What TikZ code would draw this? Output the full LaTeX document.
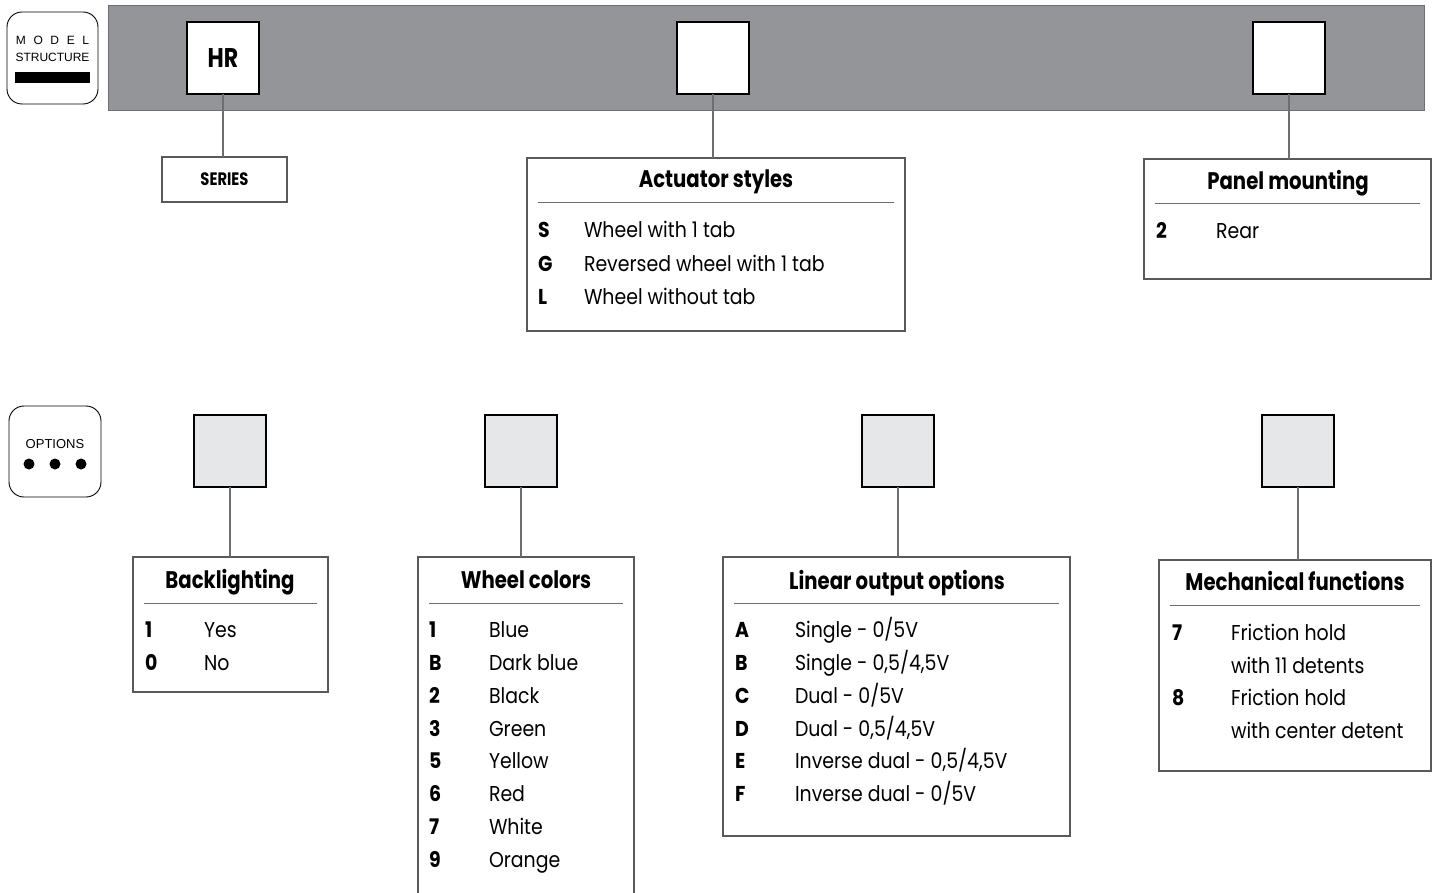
\documentclass[tikz,border=0pt]{standalone}
\usepackage{fontspec}
\setmainfont{Poppins}[FakeStretch=0.88]
\newfontfamily\ttlfont{Poppins}[FakeStretch=0.82]
\newfontfamily\arialf{Liberation Sans}
\definecolor{bargray}{HTML}{939598}
\definecolor{bardark}{HTML}{6D6E71}
\definecolor{optfill}{HTML}{E6E7E8}
\definecolor{linegray}{HTML}{58595B}
\begin{document}
\begin{tikzpicture}[x=1pt,y=-1pt,
  every node/.style={inner sep=0pt, outer sep=0pt},
  badge/.style={draw=black, line width=0.9pt, rounded corners=15pt, anchor=north west},
  codebox/.style={draw=black, line width=2.2pt, fill=white, minimum width=72pt, minimum height=72pt, anchor=north west},
  optbox/.style={codebox, fill=optfill},
  lbox/.style={draw=linegray, line width=1.1pt, fill=white, anchor=north west},
  conn/.style={draw=bardark, line width=1.1pt},
  rulel/.style={draw=bardark, line width=1pt},
  ttl/.style={font=\ttlfont\fontsize{24}{28}\selectfont\bfseries, anchor=base},
  key/.style={font=\fontsize{21.5}{26}\selectfont\bfseries, anchor=base west},
  val/.style={font=\fontsize{21.5}{26}\selectfont, anchor=base west},
  dot/.style={circle, fill=black, minimum size=11pt}
]
\useasboundingbox (0,0) rectangle (1439,893);
\clip (0,0) rectangle (1439,893);

% ---- model structure badge
\node[badge, minimum width=91pt, minimum height=92pt] (msb) at (7,12) {};
\node[font=\arialf\fontsize{12}{14}\selectfont, anchor=base] (msm) at (52.5,45) {M\hspace{7.6pt}O\hspace{7.6pt}D\hspace{7.6pt}E\hspace{7.6pt}L};
\node[font=\arialf\fontsize{12}{14}\selectfont, anchor=base] (mss) at (52.5,62) {STRUCTURE};
\node[fill=black, minimum width=75pt, minimum height=11pt, anchor=north west] (msbar) at (15,72) {};

% ---- gray bar and code boxes
\node[fill=bargray, draw=bardark, line width=0.8pt, minimum width=1316pt, minimum height=105pt, anchor=north west] (bar) at (108,5) {};
\node[codebox, font=\ttlfont\fontsize{27}{30}\selectfont\bfseries] (hr) at (187,22) {HR};
\node[codebox] (mid) at (677,22) {};
\node[codebox] (rgt) at (1253,22) {};

% ---- series
\node[lbox, minimum width=125pt, minimum height=45pt] (ser) at (162,157) {};
\node[font=\ttlfont\fontsize{18}{20}\selectfont\bfseries] (sert) at (ser.center) {SERIES};
\draw[conn] (hr.south) -- (hr.south |- ser.north);

% ---- actuator styles
\node[lbox, minimum width=378pt, minimum height=173pt] (act) at (527,158) {};
\draw[conn] (mid.south) -- (mid.south |- act.north);
\node[ttl] (actt) at (716,188) {Actuator styles};
\draw[rulel] (538,203) -- (894,203);
\node[key] (a1k) at (538,238) {S};  \node[val] (a1v) at (584,238) {Wheel with 1 tab};
\node[key] (a2k) at (538,271) {G};  \node[val] (a2v) at (584,271) {Reversed wheel with 1 tab};
\node[key] (a3k) at (538,304) {L};  \node[val] (a3v) at (584,304) {Wheel without tab};

% ---- panel mounting
\node[lbox, minimum width=287pt, minimum height=120pt] (pan) at (1144,159) {};
\draw[conn] (rgt.south) -- (rgt.south |- pan.north);
\node[ttl] (pant) at (1288,190) {Panel mounting};
\draw[rulel] (1155,204) -- (1420,204);
\node[key] (p1k) at (1156,239) {2};  \node[val] (p1v) at (1216,239) {Rear};

% ---- options badge
\node[badge, minimum width=92pt, minimum height=91pt] (opb) at (9,406) {};
\node[font=\arialf\fontsize{13}{15}\selectfont, anchor=base] (opt) at (55,448) {OPTIONS};
\node[dot] (d1) at (29,464) {};
\node[dot] (d2) at (55,464) {};
\node[dot] (d3) at (81,464) {};

% ---- option boxes
\node[optbox] (o1) at (194,415) {};
\node[optbox] (o2) at (485,415) {};
\node[optbox] (o3) at (862,415) {};
\node[optbox] (o4) at (1262,415) {};

% ---- backlighting
\node[lbox, minimum width=195pt, minimum height=135pt] (bl) at (133,557) {};
\draw[conn] (o1.south) -- (o1.south |- bl.north);
\node[ttl] (blt) at (230,588) {Backlighting};
\draw[rulel] (144,603) -- (317,603);
\node[key] (b1k) at (145,637) {1};  \node[val] (b1v) at (204,637) {Yes};
\node[key] (b2k) at (145,670) {0};  \node[val] (b2v) at (204,670) {No};

% ---- wheel colors
\node[lbox, minimum width=216pt, minimum height=380pt] (wc) at (418,557) {};
\draw[conn] (o2.south) -- (o2.south |- wc.north);
\node[ttl] (wct) at (526,588) {Wheel colors};
\draw[rulel] (429,603) -- (623,603);
\node[key] (w1k) at (429,637) {1};  \node[val] (w1v) at (489,637) {Blue};
\node[key] (w2k) at (429,670) {B};  \node[val] (w2v) at (489,670) {Dark blue};
\node[key] (w3k) at (429,703) {2};  \node[val] (w3v) at (489,703) {Black};
\node[key] (w4k) at (429,736) {3};  \node[val] (w4v) at (489,736) {Green};
\node[key] (w5k) at (429,768) {5};  \node[val] (w5v) at (489,768) {Yellow};
\node[key] (w6k) at (429,801) {6};  \node[val] (w6v) at (489,801) {Red};
\node[key] (w7k) at (429,834) {7};  \node[val] (w7v) at (489,834) {White};
\node[key] (w8k) at (429,867) {9};  \node[val] (w8v) at (489,867) {Orange};

% ---- linear output options
\node[lbox, minimum width=347pt, minimum height=279pt] (lo) at (723,557) {};
\draw[conn] (o3.south) -- (o3.south |- lo.north);
\node[ttl] (lot) at (897,589) {Linear output options};
\draw[rulel] (734,603) -- (1059,603);
\node[key] (l1k) at (735,637) {A};  \node[val] (l1v) at (795,637) {Single - 0/5V};
\node[key] (l2k) at (735,670) {B};  \node[val] (l2v) at (795,670) {Single - 0,5/4,5V};
\node[key] (l3k) at (735,703) {C};  \node[val] (l3v) at (795,703) {Dual - 0/5V};
\node[key] (l4k) at (735,736) {D};  \node[val] (l4v) at (795,736) {Dual - 0,5/4,5V};
\node[key] (l5k) at (735,768) {E};  \node[val] (l5v) at (795,768) {Inverse dual - 0,5/4,5V};
\node[key] (l6k) at (735,801) {F};  \node[val] (l6v) at (795,801) {Inverse dual - 0/5V};

% ---- mechanical functions
\node[lbox, minimum width=272pt, minimum height=211pt] (mf) at (1159,560) {};
\draw[conn] (o4.south) -- (o4.south |- mf.north);
\node[ttl] (mft) at (1295,590) {Mechanical functions};
\draw[rulel] (1170,605) -- (1420,605);
\node[key] (m1k) at (1172,640) {7};  \node[val] (m1v) at (1231,640) {Friction hold};
\node[val] (m1w) at (1231,673) {with 11 detents};
\node[key] (m2k) at (1172,705) {8};  \node[val] (m2v) at (1231,705) {Friction hold};
\node[val] (m2w) at (1231,738) {with center detent};
\end{tikzpicture}
\end{document}
